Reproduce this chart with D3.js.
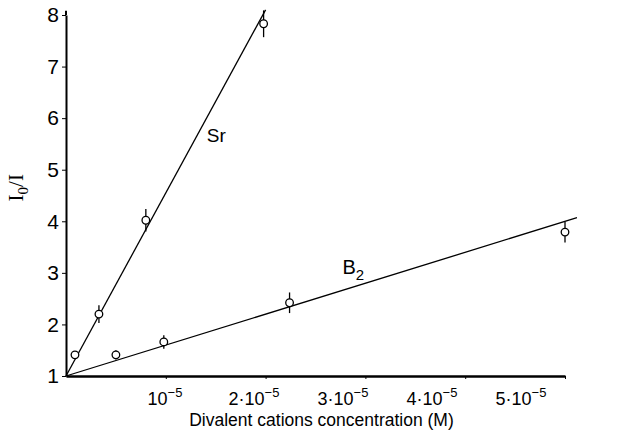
<!DOCTYPE html>
<html>
<head>
<meta charset="utf-8">
<script src="https://cdn.jsdelivr.net/npm/d3@7"></script>
<style>
  html, body { margin: 0; padding: 0; background: #fff; }
  svg { display: block; }
  text { font-family: "Liberation Sans", Arial, sans-serif; fill: #000; }
</style>
</head>
<body>
<svg id="chart" width="629" height="441"></svg>
<script>
// Sr2+ quenching data (concentration in M, I0/I, error half-width)
const srConc = [0.09e-5, 0.33e-5, 0.80e-5, 1.98e-5];
const srRatio = [1.41, 2.20, 4.02, 7.83];
const srErr = [0, 0.17, 0.22, 0.26];

// B2 data
const b2Conc = [0.50e-5, 0.98e-5, 2.24e-5, 5.00e-5];
const b2Ratio = [1.41, 1.66, 2.42, 3.79];
const b2Err = [0.09, 0.13, 0.20, 0.20];

// Stern-Volmer fit lines (start and end points)
const srFit = [[0, 1], [2.0e-5, 8.1]];
const b2Fit = [[0, 1], [5.12e-5, 4.07]];

// Axis ticks
const xTickValues = [1e-5, 2e-5, 3e-5, 4e-5, 5e-5];
const xTickLabels = ["10", "2·10", "3·10", "4·10", "5·10"];
const yTickValues = [1, 2, 3, 4, 5, 6, 7, 8];

const svg = d3.select("#chart");

const x = d3.scaleLinear().domain([0, 5e-5]).range([66, 565]);
const y = d3.scaleLinear().domain([1, 8]).range([376, 15]);
// hand-lettered tick labels sit slightly closer together than the ticks
const xLabel = d3.scaleLinear().domain([0, 5e-5]).range([76, 521]);

// x axis
const gx = svg.append("g").attr("transform", `translate(0,${y(1)})`)
  .call(d3.axisBottom(x).tickValues(xTickValues).tickSize(3).tickSizeOuter(0).tickFormat(""));
gx.select(".domain").attr("stroke-width", 2.4);
gx.selectAll(".tick line").attr("stroke-width", 1);

const lbl = svg.append("g").selectAll("text").data(xTickValues).join("text")
  .attr("x", d => xLabel(d))
  .attr("y", 405)
  .attr("text-anchor", "middle")
  .style("font-size", "18px");
lbl.append("tspan").text((d, i) => xTickLabels[i]);
lbl.append("tspan").attr("dy", -8).style("font-size", "13px").text("−5");

svg.append("text")
  .attr("x", (x(0) + x(5e-5)) / 2 + 6)
  .attr("y", 426)
  .attr("text-anchor", "middle")
  .style("font-size", "17.5px")
  .text("Divalent cations concentration (M)");

// y axis
const gy = svg.append("g").attr("transform", `translate(${x(0)},0)`)
  .call(d3.axisLeft(y).tickValues(yTickValues).tickSize(4).tickSizeOuter(0).tickPadding(3).tickFormat(d3.format("d")));
gy.select(".domain").attr("stroke-width", 2);
gy.selectAll(".tick text").style("font-size", "21px").style("font-family", "'Liberation Sans', Arial, sans-serif");
svg.append("line")
  .attr("x1", x(0)).attr("x2", x(0))
  .attr("y1", y(8)).attr("y2", y(8.08))
  .attr("stroke", "#000").attr("stroke-width", 2);

// y axis title: I0/I
const yt = svg.append("text")
  .attr("transform", `translate(23,${y(4.65)}) rotate(-90)`)
  .attr("text-anchor", "middle")
  .style("font-family", "'Liberation Serif', 'Times New Roman', serif")
  .style("font-size", "21px");
yt.append("tspan").text("I");
yt.append("tspan").attr("dy", 5).style("font-size", "15px").text("0");
yt.append("tspan").attr("dy", -5).text("/I");

// fit lines
const line = d3.line().x(d => x(d[0])).y(d => y(d[1]));
[srFit, b2Fit].forEach(f => {
  svg.append("path").attr("d", line(f))
    .attr("fill", "none").attr("stroke", "#000").attr("stroke-width", 1.3);
});

// points with error bars
function drawSeries(conc, ratio, err) {
  const g = svg.append("g");
  const pts = conc.map((c, i) => ({ c, r: ratio[i], e: err[i] }));
  g.selectAll("line.err").data(pts.filter(p => p.e > 0)).join("line")
    .attr("class", "err")
    .attr("x1", d => x(d.c)).attr("x2", d => x(d.c))
    .attr("y1", d => y(d.r + d.e)).attr("y2", d => y(d.r - d.e))
    .attr("stroke", "#000").attr("stroke-width", 1.3);
  g.selectAll("circle").data(pts).join("circle")
    .attr("cx", d => x(d.c)).attr("cy", d => y(d.r)).attr("r", 3.8)
    .attr("fill", "#fff").attr("stroke", "#000").attr("stroke-width", 1.3);
}
drawSeries(srConc, srRatio, srErr);
drawSeries(b2Conc, b2Ratio, b2Err);

// series labels
svg.append("text")
  .attr("x", x(1.41e-5)).attr("y", y(5.54))
  .style("font-size", "19px")
  .text("Sr");
const b2t = svg.append("text")
  .attr("x", x(2.77e-5)).attr("y", y(2.98))
  .style("font-size", "20px");
b2t.append("tspan").text("B");
b2t.append("tspan").attr("dy", 6).style("font-size", "15px").text("2");
</script>
</body>
</html>
